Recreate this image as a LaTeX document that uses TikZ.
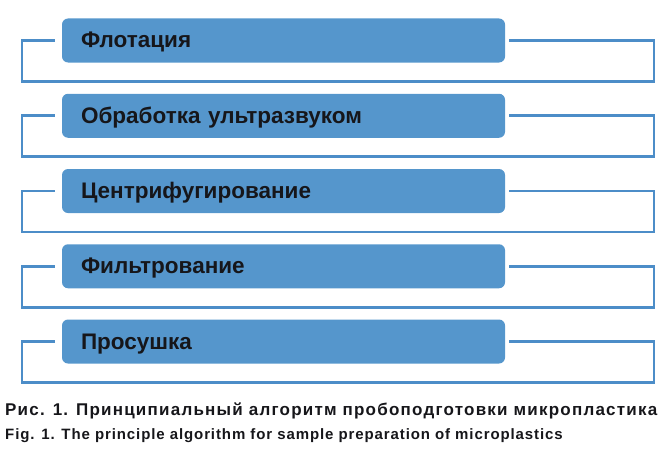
\documentclass[tikz,border=0pt]{standalone}
\usepackage{fontspec}
\setmainfont{Liberation Sans}
\newfontfamily\capfont[LetterSpace=6]{Liberation Sans}
\newfontfamily\capfontru[LetterSpace=7.2]{Liberation Sans}
\definecolor{stageblue}{RGB}{85,150,204}
\definecolor{frameblue}{RGB}{76,141,200}
\definecolor{inkgray}{RGB}{22,22,26}

\begin{document}
\begin{tikzpicture}[x=1pt, y=-1pt,
  stagebox/.style={fill=stageblue, rounded corners=6pt, minimum width=443pt, minimum height=44pt,
    text width=405pt, align=left, inner xsep=19pt, text height=15pt, text depth=0pt, text=inkgray,
    font=\fontsize{22.5}{26}\selectfont\bfseries},
  frame/.style={frameblue, line width=2.6pt},
  caption/.style={anchor=base west, inner sep=0pt, text=inkgray}]
\useasboundingbox (0,0) rectangle (663,452);
%\draw[help lines] (0,0) grid[step=50] (663,452);
\node [stagebox] (flot) at (283.5, 40.5) {Флотация};
\node [stagebox] (ultra) at (283.5, 115.75) {Обработка ультразвуком};
\node [stagebox] (centr) at (283.5, 191) {Центрифугирование};
\node [stagebox] (filtr) at (283.5, 266.25) {Фильтрование};
\node [stagebox] (dry) at (283.5, 341.5) {Просушка};

\draw [frame] ([xshift=-7pt]flot.west) -- ++(-33,0) -- ++(0,41) -- ++(632,0) -- ++(0,-41) -- ([xshift=4pt]flot.east);
\draw [frame] ([xshift=-7pt]ultra.west) -- ++(-33,0) -- ++(0,41) -- ++(632,0) -- ++(0,-41) -- ([xshift=4pt]ultra.east);
\draw [frame] ([xshift=-7pt]centr.west) -- ++(-33,0) -- ++(0,41) -- ++(632,0) -- ++(0,-41) -- ([xshift=4pt]centr.east);
\draw [frame] ([xshift=-7pt]filtr.west) -- ++(-33,0) -- ++(0,41) -- ++(632,0) -- ++(0,-41) -- ([xshift=4pt]filtr.east);
\draw [frame] ([xshift=-7pt]dry.west) -- ++(-33,0) -- ++(0,41) -- ++(632,0) -- ++(0,-41) -- ([xshift=4pt]dry.east);

\node [caption, font=\capfontru\fontsize{17}{20}\selectfont\bfseries] (capru) at (5, 415) {Рис. 1. Принципиальный алгоритм пробоподготовки микропластика};
\node [caption, font=\capfont\fontsize{15}{18}\selectfont\bfseries] (capen) at (5, 439) {Fig. 1. The principle algorithm for sample preparation of microplastics};
\end{tikzpicture}
\end{document}
